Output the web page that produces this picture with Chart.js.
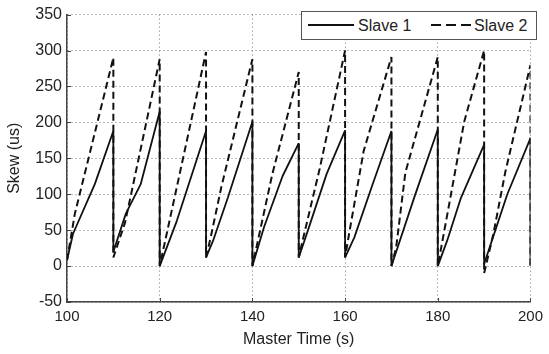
<!DOCTYPE html>
<html>
<head>
<meta charset="utf-8">
<script src="https://cdn.jsdelivr.net/npm/chart.js@4.4.0/dist/chart.umd.min.js"></script>
<style>
  body { margin: 0; background: #fff; }
  #wrap { position: relative; width: 549px; height: 354px; }
  .legend {
    position: absolute; left: 301px; top: 11px; width: 236px; height: 29px;
    box-sizing: border-box; border: 1px solid #555; background: #fff;
    font-family: "Liberation Sans", Arial, sans-serif; font-size: 16px; color: #222;
  }
  .legend svg { position: absolute; left: 0; top: 0; }
  .legend span { position: absolute; top: 4px; line-height: 19px; }
</style>
</head>
<body>
<div id="wrap">
  <canvas id="myChart" width="549" height="354"></canvas>
  <div class="legend">
    <svg width="234" height="27">
      <line x1="6" y1="13" x2="52" y2="13" stroke="#111" stroke-width="2"/>
      <line x1="129" y1="13" x2="170" y2="13" stroke="#111" stroke-width="2" stroke-dasharray="10 5"/>
    </svg>
    <span style="left:56px">Slave 1</span>
    <span style="left:172px">Slave 2</span>
  </div>
</div>
<script>
// values (time in s, skew in us)
const slave1Time = [100, 101.3, 106, 110, 110, 112.7, 115.9, 120, 120, 123.7, 130, 130, 131.5, 134.7, 140,
  140, 142.5, 146.5, 150, 150, 152, 156, 160, 160, 162, 166, 170, 170, 175, 180,
  180, 182, 185, 190, 190, 195, 200, 200];
const slave1Skew = [8, 45, 114, 188, 20, 73, 114, 215, 0, 63, 188, 12, 35, 95, 201,
  0, 54, 125, 171, 12, 50, 128, 189, 12, 40, 115, 188, 0, 97, 190,
  0, 35, 95, 169, 3, 100, 178, 0];

const slave2Time = [100, 101.7, 110, 110, 112.5, 113.5, 120, 120, 130, 130, 131, 133.3, 140,
  140, 144.3, 150, 150, 151, 154.5, 160, 160, 161, 164, 170,
  170, 171, 173, 180, 180, 182.2, 185.7, 190, 190, 192, 194.6, 200, 200];
const slave2Skew = [8, 73, 290, 12, 60, 90, 288, 0, 298, 12, 40, 110, 288,
  0, 128, 270, 12, 40, 135, 300, 12, 50, 160, 291,
  0, 25, 130, 291, 0, 77, 201, 300, -10, 45, 132, 280, 0];

const timeTicks = [100, 120, 140, 160, 180, 200];
const skewTicks = [-50, 0, 50, 100, 150, 200, 250, 300, 350];

const toPoints = (xs, ys) => xs.map((x, i) => ({ x: x, y: ys[i] }));

Chart.defaults.font.family = '"Liberation Sans", Arial, sans-serif';
Chart.defaults.color = "#222";

// MATLAB style ticks pointing into the plot
const innerTicks = {
  id: "innerTicks",
  afterDatasetsDraw(chart) {
    const { ctx, chartArea, scales } = chart;
    ctx.save();
    ctx.strokeStyle = "#444";
    ctx.lineWidth = 1;
    ctx.beginPath();
    timeTicks.forEach((v) => {
      const x = Math.round(scales.x.getPixelForValue(v)) + 0.5;
      ctx.moveTo(x, chartArea.bottom);
      ctx.lineTo(x, chartArea.bottom - 4);
    });
    skewTicks.forEach((v) => {
      const y = Math.round(scales.y.getPixelForValue(v)) + 0.5;
      ctx.moveTo(chartArea.left, y);
      ctx.lineTo(chartArea.left + 4, y);
    });
    ctx.stroke();
    ctx.restore();
  },
};

const ctx = document.getElementById("myChart").getContext("2d");
const myChart = new Chart(ctx, {
  type: "line",
  data: {
    datasets: [
      {
        label: "Slave 1",
        data: toPoints(slave1Time, slave1Skew),
        borderColor: "#111",
        borderWidth: 1.8,
        borderJoinStyle: "bevel",
        pointRadius: 0,
        tension: 0,
      },
      {
        label: "Slave 2",
        data: toPoints(slave2Time, slave2Skew),
        borderColor: "#111",
        borderWidth: 2,
        borderDash: [7, 4],
        borderJoinStyle: "bevel",
        pointRadius: 0,
        tension: 0,
      },
    ],
  },
  options: {
    responsive: false,
    animation: false,
    layout: { padding: { top: 12, right: 12, left: 0, bottom: 0 } },
    plugins: { legend: { display: false }, tooltip: { enabled: false } },
    scales: {
      x: {
        type: "linear",
        min: 100,
        max: 200,
        afterBuildTicks: (s) => { s.ticks = timeTicks.map((v) => ({ value: v })); },
        afterFit: (s) => { s.height = 52; },
        grid: { color: "#777", lineWidth: 1, drawTicks: false },
        border: { display: true, color: "#444", width: 1.5, dash: [1, 3] },
        ticks: { padding: 6, font: { size: 15 }, maxRotation: 0 },
        title: { display: true, text: "Master Time (s)", font: { size: 16 }, padding: { top: 0, bottom: 5 } },
      },
      y: {
        type: "linear",
        min: -50,
        max: 350,
        afterBuildTicks: (s) => { s.ticks = skewTicks.map((v) => ({ value: v })); },
        afterFit: (s) => { s.width = 67; },
        grid: { color: "#777", lineWidth: 1, drawTicks: false },
        border: { display: true, color: "#444", width: 1.5, dash: [1, 3] },
        ticks: { padding: 5, font: { size: 16 } },
        title: { display: true, text: "Skew (us)", font: { size: 16 }, padding: { top: 5, bottom: 0 } },
      },
    },
  },
  plugins: [innerTicks],
});
</script>
</body>
</html>
